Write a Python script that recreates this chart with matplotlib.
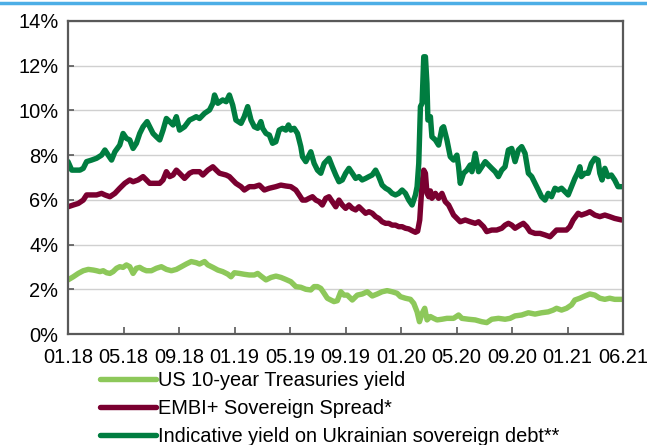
import matplotlib
matplotlib.use('Agg')
import matplotlib.pyplot as plt
from matplotlib.lines import Line2D

plt.rcParams['font.family'] = ['Liberation Sans', 'DejaVu Sans']

# months since 01.18
tick_labels = ['01.18', '05.18', '09.18', '01.19', '05.19', '09.19',
               '01.20', '05.20', '09.20', '01.21', '06.21']

us_m = [0.0, 0.38, 0.74, 1.1, 1.46, 1.82, 2.06, 2.3, 2.54, 2.78, 3.02, 3.25, 3.5, 3.73, 3.97,
        4.21, 4.45, 4.69, 4.93, 5.17, 5.41, 5.65, 6.01, 6.37, 6.73, 7.09, 7.45, 7.81, 8.17,
        8.52, 8.88, 9.24, 9.48, 9.84, 10.08, 10.44, 10.8, 11.15, 11.51, 11.75, 11.99, 12.35,
        12.71, 13.07, 13.43, 13.67, 13.91, 14.27, 14.63, 14.99, 15.35, 15.7, 16.06, 16.42,
        16.78, 17.14, 17.5, 17.74, 17.98, 18.22, 18.46, 18.69, 18.94, 19.17, 19.41, 19.66,
        19.89, 20.13, 20.49, 20.85, 21.21, 21.57, 21.93, 22.29, 22.64, 23.0, 23.36, 23.72,
        23.96, 24.32, 24.68, 24.92, 25.16, 25.33, 25.52, 25.71, 25.88, 26.12, 26.36, 26.6,
        26.95, 27.31, 27.79, 28.15, 28.39, 28.87, 29.35, 29.82, 30.18, 30.54, 31.02, 31.5,
        31.86, 32.22, 32.7, 33.18, 33.66, 34.13, 34.61, 34.97, 35.21, 35.57, 35.93, 36.29,
        36.53, 36.89, 37.25, 37.61, 37.97, 38.33, 38.69, 39.04, 39.4, 39.9]
us_yield = [2.42, 2.56, 2.71, 2.83, 2.89, 2.86, 2.83, 2.79, 2.83, 2.74, 2.71, 2.79, 2.94, 3.01, 2.98,
            3.09, 3.01, 2.71, 2.94, 2.98, 2.89, 2.83, 2.83, 2.94, 3.01, 2.89, 2.83, 2.89, 3.01,
            3.13, 3.24, 3.19, 3.13, 3.24, 3.09, 2.98, 2.86, 2.79, 2.68, 2.56, 2.74, 2.71,
            2.67, 2.64, 2.64, 2.71, 2.59, 2.42, 2.53, 2.59, 2.53, 2.44, 2.34, 2.12,
            2.09, 2.0, 1.97, 2.12, 2.12, 2.04, 1.82, 1.6, 1.52, 1.45, 1.49, 1.89,
            1.74, 1.74, 1.52, 1.74, 1.79, 1.89, 1.7, 1.79, 1.89, 1.94, 1.89, 1.82,
            1.67, 1.6, 1.55, 1.37, 0.99, 0.55, 0.92, 1.15, 0.63, 0.78, 0.7, 0.63,
            0.66, 0.7, 0.7, 0.85, 0.7, 0.66, 0.63, 0.55, 0.51, 0.66, 0.7, 0.66,
            0.7, 0.81, 0.85, 0.95, 0.89, 0.95, 0.99, 1.07, 1.15, 1.07, 1.15, 1.3,
            1.52, 1.6, 1.7, 1.79, 1.74, 1.6, 1.55, 1.6, 1.55, 1.55]

embi_m = [0.0, 0.38, 0.74, 1.1, 1.34, 1.7, 2.06, 2.42, 2.66, 3.02, 3.38, 3.73, 4.09, 4.45, 4.69,
          5.05, 5.41, 5.65, 5.89, 6.25, 6.61, 6.85, 7.09, 7.33, 7.57, 7.81, 8.04, 8.4, 8.76,
          9.0, 9.48, 9.72, 10.08, 10.44, 10.68, 10.92, 11.4, 11.63, 12.1, 12.47, 12.71, 13.07,
          13.43, 13.79, 14.15, 14.51, 14.98, 15.34, 15.7, 16.06, 16.42, 16.66, 16.9, 17.14,
          17.38, 17.62, 17.86, 18.1, 18.33, 18.58, 18.81, 19.05, 19.3, 19.53, 19.77, 20.01,
          20.25, 20.49, 20.73, 20.97, 21.2, 21.45, 21.69, 21.93, 22.17, 22.4, 22.64, 22.89,
          23.12, 23.36, 23.6, 23.84, 24.08, 24.32, 24.56, 24.8, 25.04, 25.2, 25.35, 25.52,
          25.64, 25.76, 25.87, 26.0, 26.12, 26.23, 26.48, 26.71, 26.95, 27.19, 27.43, 27.55,
          27.79, 28.03, 28.27, 28.63, 28.99, 29.35, 29.59, 29.95, 30.18, 30.54, 30.9, 31.26,
          31.5, 31.74, 31.98, 32.22, 32.58, 32.82, 33.06, 33.3, 33.66, 34.02, 34.38, 34.74,
          34.97, 35.21, 35.57, 35.93, 36.17, 36.41, 36.77, 37.0, 37.37, 37.61, 37.97, 38.33,
          38.69, 39.04, 39.4, 39.9]
embi_spread = [5.69, 5.77, 5.84, 5.99, 6.22, 6.22, 6.22, 6.29, 6.22, 6.14, 6.29, 6.52, 6.74, 6.89, 6.81,
               6.89, 7.04, 6.89, 6.74, 6.74, 6.74, 6.89, 7.26, 7.04, 7.11, 7.33, 7.19, 6.96, 7.19,
               7.26, 7.26, 7.11, 7.33, 7.48, 7.33, 7.19, 7.11, 7.04, 6.74, 6.59, 6.44, 6.59,
               6.59, 6.66, 6.44, 6.52, 6.59, 6.66, 6.62, 6.59, 6.44, 6.22, 5.99, 5.99,
               6.07, 6.14, 5.99, 5.92, 5.77, 6.07, 6.14, 5.92, 5.69, 5.99, 5.77, 5.62,
               5.77, 5.62, 5.55, 5.69, 5.55, 5.4, 5.47, 5.4, 5.25, 5.17, 5.02, 4.95,
               4.95, 4.87, 4.87, 4.8, 4.8, 4.73, 4.7, 4.62, 4.55, 4.6, 5.1, 6.74,
               7.33, 7.19, 6.3, 6.14, 6.4, 6.07, 6.29, 6.07, 6.29, 5.92, 5.77, 5.62,
               5.32, 5.17, 5.02, 5.1, 5.02, 4.95, 5.02, 4.8, 4.58, 4.65, 4.65, 4.73,
               4.87, 4.95, 4.87, 4.73, 4.87, 4.95, 4.8, 4.58, 4.5, 4.5, 4.43, 4.35,
               4.5, 4.65, 4.65, 4.65, 4.8, 5.1, 5.4, 5.32, 5.4, 5.47, 5.32, 5.25,
               5.32, 5.25, 5.17, 5.1]

ua_m = [0.0, 0.27, 0.86, 1.1, 1.34, 1.7, 2.06, 2.42, 2.66, 2.9, 3.14, 3.38, 3.73, 3.97, 4.21,
        4.45, 4.69, 4.93, 5.17, 5.41, 5.7, 6.01, 6.13, 6.37, 6.61, 6.85, 7.09, 7.33, 7.57,
        7.81, 8.04, 8.4, 8.76, 9.0, 9.24, 9.48, 9.84, 10.2, 10.44, 10.56, 10.8, 11.15, 11.4,
        11.63, 11.87, 12.1, 12.47, 12.7, 12.95, 13.19, 13.43, 13.67, 13.9, 14.03, 14.27,
        14.51, 14.74, 14.98, 15.22, 15.46, 15.7, 15.89, 16.06, 16.3, 16.54, 16.78, 16.9,
        17.14, 17.38, 17.5, 17.74, 17.98, 18.22, 18.46, 18.69, 18.81, 19.05, 19.3, 19.53,
        19.77, 20.01, 20.25, 20.49, 20.73, 20.97, 21.2, 21.45, 21.69, 21.92, 22.17, 22.4,
        22.64, 22.89, 23.12, 23.36, 23.6, 23.84, 24.08, 24.32, 24.56, 24.8, 25.04, 25.16,
        25.28, 25.4, 25.52, 25.64, 25.76, 25.87, 25.94, 26.12, 26.23, 26.48, 26.71, 26.95,
        27.07, 27.31, 27.55, 27.79, 28.03, 28.15, 28.27, 28.51, 28.75, 28.99, 29.11, 29.35,
        29.59, 29.82, 30.07, 30.3, 30.54, 30.79, 31.02, 31.26, 31.5, 31.74, 31.98, 32.22,
        32.46, 32.7, 32.94, 33.18, 33.42, 33.66, 33.9, 34.13, 34.38, 34.61, 34.85, 35.1,
        35.33, 35.57, 35.81, 36.05, 36.29, 36.53, 36.77, 36.89, 37.0, 37.25, 37.49, 37.72,
        37.97, 38.2, 38.33, 38.49, 38.69, 38.92, 39.16, 39.4, 39.64, 39.9]
ua_yield = [7.71, 7.33, 7.33, 7.41, 7.71, 7.78, 7.86, 8.0, 8.23, 8.0, 7.78, 8.15, 8.45, 8.97, 8.75,
            8.68, 8.3, 8.53, 8.97, 9.27, 9.5, 9.12, 8.97, 8.82, 8.68, 9.12, 9.64, 9.5, 9.35,
            9.72, 9.12, 9.27, 9.57, 9.64, 9.72, 9.64, 9.87, 10.02, 10.32, 10.69, 10.32, 10.47, 10.39,
            10.69, 10.24, 9.57, 9.42, 9.72, 10.17, 9.57, 9.27, 9.2, 9.5, 9.2, 8.97,
            8.9, 8.53, 8.6, 9.12, 9.2, 9.12, 9.35, 9.12, 9.2, 8.97, 8.38, 7.93,
            7.71, 8.0, 8.15, 7.63, 7.33, 7.19, 7.63, 7.78, 7.86, 7.48, 7.11, 6.81,
            6.89, 7.19, 7.41, 7.19, 6.96, 7.04, 6.89, 6.96, 7.04, 7.11, 7.33, 7.04,
            6.66, 6.52, 6.44, 6.29, 6.22, 6.29, 6.44, 6.29, 5.99, 5.77, 6.22, 6.59,
            7.63, 10.17, 10.32, 12.4, 12.4, 11.2, 9.57, 9.72, 8.82, 8.68, 8.45, 9.2,
            9.27, 8.68, 7.93, 7.78, 8.0, 7.48, 6.74, 7.19, 7.33, 7.56, 7.26, 8.08,
            7.26, 7.48, 7.71, 7.56, 7.41, 7.26, 7.04, 7.33, 7.48, 8.23, 8.3, 7.71,
            8.23, 8.38, 8.08, 7.19, 7.04, 6.74, 6.44, 6.14, 5.99, 6.29, 6.14, 6.52,
            6.44, 6.52, 6.37, 6.22, 6.59, 6.96, 7.26, 7.48, 7.04, 7.19, 7.19, 7.63,
            7.86, 7.78, 7.19, 6.89, 7.41, 7.04, 7.11, 6.89, 6.59, 6.59]

fig = plt.figure(figsize=(6.47, 4.45), dpi=100)
ax = fig.add_axes([68 / 647, 1 - 334 / 445, 555 / 647, 313 / 445])

lw = 3.9
l1, = ax.plot(us_m, us_yield, color='#8DC85A', lw=lw, solid_joinstyle='round',
              solid_capstyle='round', label='US 10-year Treasuries yield')
l2, = ax.plot(embi_m, embi_spread, color='#7A0030', lw=lw, solid_joinstyle='round',
              solid_capstyle='round', label='EMBI+ Sovereign Spread*')
l3, = ax.plot(ua_m, ua_yield, color='#007D40', lw=lw, solid_joinstyle='round',
              solid_capstyle='round', label='Indicative yield on Ukrainian sovereign debt**')

ax.set_xlim(0, 40)
ax.set_ylim(0, 14)
ax.set_xticks(range(0, 41, 4))
ax.set_xticklabels(tick_labels)
ax.set_yticks(range(0, 15, 2))
ax.set_yticklabels([f'{v}%' for v in range(0, 15, 2)])
ax.grid(axis='y', color='#D0D0D0', lw=1)
ax.set_axisbelow(True)
for s in ax.spines.values():
    s.set_color('#595959')
    s.set_linewidth(1.6)
ax.tick_params(axis='both', direction='in', color='#595959', width=1.2, labelsize=14.4)
ax.tick_params(axis='x', length=5, pad=10)
ax.tick_params(axis='y', length=4, pad=7)

fig.legend(handles=[l1, l2, l3], loc='upper left', frameon=False,
           bbox_to_anchor=(100 / 647, 1 - 371 / 445), borderpad=0, borderaxespad=0,
           fontsize=14.4, handlelength=2.8, handletextpad=0.1, labelspacing=0.45)

# blue rule at the top
fig.add_artist(Line2D([0, 1], [1 - 2.5 / 445, 1 - 2.5 / 445], color='#4DAEE6', lw=2.5,
                      transform=fig.transFigure))

fig.savefig('out.png', dpi=100)
